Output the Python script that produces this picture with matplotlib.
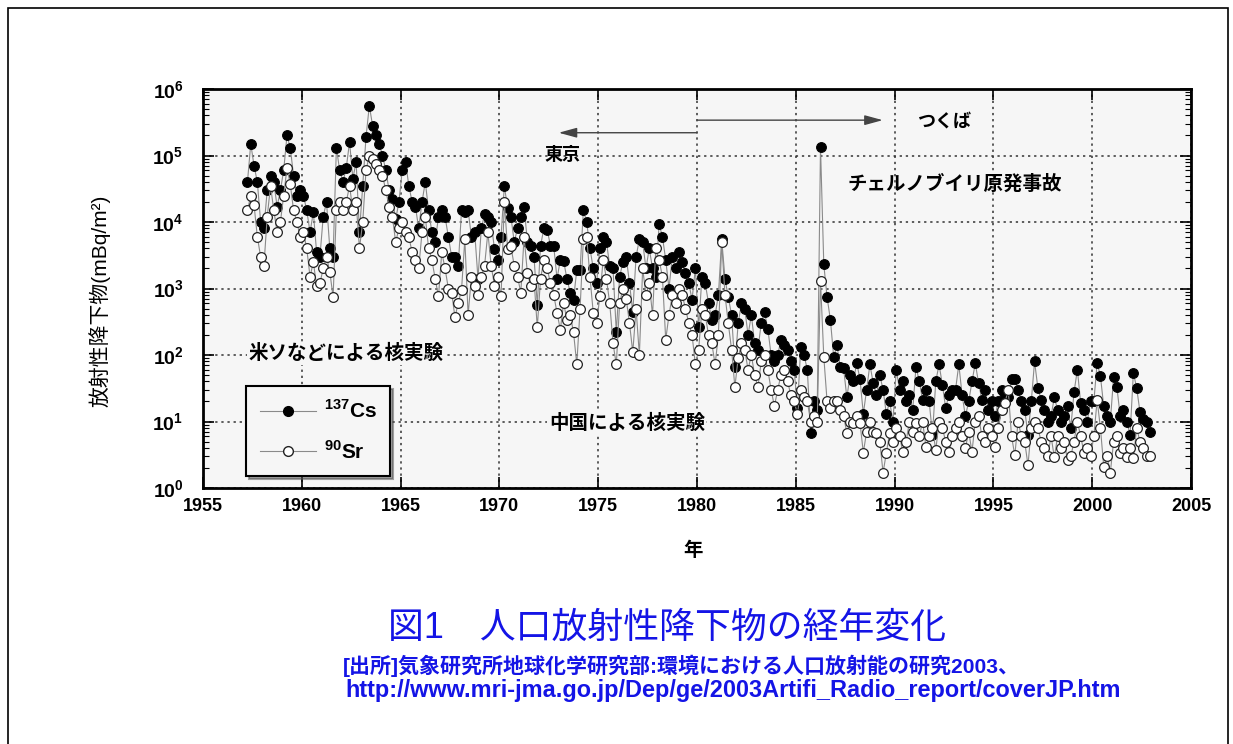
import numpy as np
import matplotlib
matplotlib.use("Agg")
import matplotlib.pyplot as plt
from matplotlib.patches import Rectangle
from matplotlib.lines import Line2D

# ---------------- data (mBq/m^2), bimonthly readings per year ----------------
years = list(range(1957, 2003))
bin_offsets = [1/12, 3/12, 5/12, 7/12, 9/12, 11/12]
nan = float('nan')

cs137 = [
    nan, 4e4, 1.5e5, 7e4, 4e4, 1e4,            # 1957
    8e3, 3e4, 5e4, 4e4, 1.7e4, 3e4,            # 1958
    6e4, 2e5, 1.3e5, 5e4, 2.5e4, 3e4,          # 1959
    2.5e4, 1.5e4, 7e3, 1.4e4, 3.5e3, 3e3,      # 1960
    1.2e4, 2e4, 4e3, 3e3, 1.3e5, 6e4,          # 1961
    4e4, 6.5e4, 1.6e5, 4.5e4, 8e4, 7e3,        # 1962
    3.5e4, 1.9e5, 5.6e5, 2.8e5, 2e5, 1.5e5,    # 1963
    1e5, 6e4, 3e4, 2.2e4, 1.1e4, 2e4,          # 1964
    6e4, 8e4, 3.5e4, 2e4, 1.7e4, 8e3,          # 1965
    2e4, 4e4, 1.5e4, 7e3, 5e3, 1.2e4,          # 1966
    1.5e4, 1.2e4, 6e3, 3e3, 3e3, 2.2e3,        # 1967
    1.5e4, 1.4e4, 1.5e4, 6e3, 7e3, 1.4e3,      # 1968
    8e3, 1.3e4, 1.2e4, 1e4, 3.9e3, 2.7e3,      # 1969
    6e3, 3.5e4, 1.6e4, 1.2e4, 5e3, 8e3,        # 1970
    1.2e4, 1.7e4, 5e3, 4.4e3, 3e3, 5.7e2,      # 1971
    4.4e3, 8e3, 7.7e3, 4.4e3, 4.3e3, 1.4e3,    # 1972
    2.7e3, 2.6e3, 1.4e3, 8.7e2, 6.8e2, 1.9e3,  # 1973
    1.9e3, 1.5e4, 1e4, 4e3, 2e3, 1.2e3,        # 1974
    4e3, 6e3, 5e3, 2.2e3, 2e3, 2.2e2,          # 1975
    1.5e3, 2.5e3, 3e3, 1.2e3, 4.4e2, 3e3,      # 1976
    5.5e3, 5e3, 2e3, 4e3, 2e3, 1.5e3,          # 1977
    9.3e3, 6e3, 2.7e3, 1e3, 3e3, 2e3,          # 1978
    3.5e3, 2.5e3, 1.7e3, 1.2e3, 6.8e2, 2e3,    # 1979
    2.6e2, 1.5e3, 1.2e3, 6e2, 3.4e2, 4e2,      # 1980
    8e2, 5.5e3, 1.4e3, 7.4e2, 4e2, 66,         # 1981
    3e2, 6e2, 5e2, 2e2, 4e2, 1.5e2,            # 1982
    1.2e2, 3e2, 4.4e2, 2.5e2, 1e2, 80,         # 1983
    1e2, 1.7e2, 1.4e2, 1.2e2, 80, 60,          # 1984
    16, 1.3e2, 1e2, 60, 6.8, 20,               # 1985
    15, 1.35e5, 2.3e3, 7.4e2, 3.4e2, 94,       # 1986
    1.4e2, 66, 64, 23, 50, 40,                 # 1987
    76, 43, 13, 30, 72, 38,                    # 1988
    25, 50, 30, 13, 20, 10,                    # 1989
    60, 30, 40, 20, 25, 15,                    # 1990
    67, 40, 21, 30, 20, 6.3,                   # 1991
    40, 72, 36, 16, 25, 30,                    # 1992
    30, 72, 25, 12, 20, 40,                    # 1993
    75, 38, 21, 30, 15, 20,                    # 1994
    12, 20, 30, 25, 23, 43,                    # 1995
    43, 30, 20, 15, 6.3, 20,                   # 1996
    80, 32, 21, 15, 10, 12,                    # 1997
    23, 15, 10, 12, 17, 8,                     # 1998
    28, 60, 19, 15, 10, 20,                    # 1999
    20, 76, 48, 17, 12, 10,                    # 2000
    46, 33, 12, 15, 10, 6.3,                   # 2001
    54, 32, 14, 11, 10, 7,                     # 2002
]

sr90 = [
    nan, 1.5e4, 2.5e4, 1.8e4, 6e3, 3e3,        # 1957
    2.2e3, 1.2e4, 3.5e4, 1.5e4, 7e3, 1e4,      # 1958
    2.5e4, 6.5e4, 3.7e4, 1.5e4, 1e4, 6e3,      # 1959
    7e3, 4e3, 1.5e3, 2.5e3, 1.1e3, 1.2e3,      # 1960
    2e3, 3e3, 1.8e3, 7.4e2, 1.5e4, 2e4,        # 1961
    1.5e4, 2e4, 3.5e4, 1.5e4, 2e4, 4e3,        # 1962
    1e4, 6e4, 1e5, 8.8e4, 7.4e4, 6e4,          # 1963
    5e4, 3e4, 1.7e4, 1.2e4, 5e3, 8e3,          # 1964
    1e4, 7e3, 6e3, 3.5e3, 2.7e3, 2e3,          # 1965
    7e3, 1.2e4, 4e3, 2.7e3, 1.4e3, 7.6e2,      # 1966
    3.5e3, 2e3, 1e3, 8.7e2, 3.7e2, 6e2,        # 1967
    9.5e2, 5.5e3, 4e2, 1.5e3, 1.1e3, 8e2,      # 1968
    1.5e3, 2.2e3, 7e3, 2.2e3, 1.1e3, 1.5e3,    # 1969
    7.6e2, 2e4, 3.9e3, 4.3e3, 2.2e3, 1.5e3,    # 1970
    8.7e2, 6e3, 1.7e3, 1.1e3, 1.4e3, 2.6e2,    # 1971
    1.4e3, 2.7e3, 2e3, 1.2e3, 8e2, 4.3e2,      # 1972
    2.4e2, 6e2, 3.4e2, 4e2, 2.2e2, 72,         # 1973
    5e2, 5.5e3, 6e3, 1.5e3, 4.3e2, 3e2,        # 1974
    7.6e2, 2.7e3, 1.4e3, 6e2, 1.5e2, 72,       # 1975
    6e2, 1e3, 7e2, 3e2, 1.1e2, 5e2,            # 1976
    1e2, 2e3, 8e2, 1.2e3, 4e2, 4e3,            # 1977
    2.7e3, 1.5e3, 1.7e2, 4e2, 8e2, 6e2,        # 1978
    1e3, 8e2, 5e2, 3e2, 2e2, 72,               # 1979
    1.2e2, 5e2, 4e2, 2e2, 1.5e2, 72,           # 1980
    2e2, 5e3, 8e2, 3e2, 1.2e2, 33,             # 1981
    90, 1.5e2, 1.2e2, 60, 1e2, 50,             # 1982
    33, 80, 1e2, 60, 30, 17,                   # 1983
    30, 50, 60, 40, 25, 20,                    # 1984
    13, 30, 23, 20, 10, 12,                    # 1985
    10, 1.3e3, 94, 20, 16, 20,                 # 1986
    20, 15, 12, 6.8, 10, 9.5,                  # 1987
    12, 9.5, 3.4, 7, 10, 7,                    # 1988
    6.8, 5, 1.7, 3.4, 6.8, 5,                  # 1989
    8, 6, 3.5, 5, 10, 7,                       # 1990
    9.5, 6, 10, 4.2, 6, 8,                     # 1991
    3.7, 10, 8, 5, 3.5, 6,                     # 1992
    8, 10, 6, 4, 7, 3.5,                       # 1993
    10, 12, 6, 5, 8, 6,                        # 1994
    4.1, 8, 15, 19, 30, 6,                     # 1995
    3.1, 10, 6, 5, 2.2, 8,                     # 1996
    10, 8, 5, 4, 3, 6,                         # 1997
    2.9, 6, 4, 5, 2.6, 3,                      # 1998
    5, 10, 6, 3.4, 4, 3,                       # 1999
    6, 21, 8, 2.1, 3, 1.7,                     # 2000
    5, 6, 3.4, 4, 2.9, 4,                      # 2001
    2.8, 8, 5, 4, 3, 3,                        # 2002
]

x_ticks = [1955, 1960, 1965, 1970, 1975, 1980, 1985, 1990, 1995, 2000, 2005]
y_ticks = [1, 10, 100, 1e3, 1e4, 1e5, 1e6]
y_tick_labels = [r'$\mathbf{10^{%d}}$' % i for i in range(7)]

# ---------------- style ----------------
plt.rcParams['mathtext.fontset'] = 'custom'
plt.rcParams['mathtext.rm'] = 'Liberation Sans:bold'
plt.rcParams['mathtext.bf'] = 'Liberation Sans:bold'
plt.rcParams['font.family'] = ['Liberation Sans', 'Noto Sans CJK JP']

t = (np.repeat(years, 6) + np.tile(bin_offsets, len(years)))
cs = np.array(cs137, dtype=float)
sr = np.array(sr90, dtype=float)

fig = plt.figure(figsize=(12.33, 7.44), dpi=100)
ax = fig.add_axes([203/1233, 1-488/744, (1191-203)/1233, (488-89)/744])
ax.set_facecolor('#f6f6f6')

line_col = '#8a8a8a'
ax.plot(t, cs, '-', color=line_col, lw=0.8, marker='o', ms=7, mfc='black',
        mec='black', mew=0.8, zorder=3)
ax.plot(t, sr, '-', color=line_col, lw=0.8, marker='o', ms=7, mfc='white',
        mec='#222222', mew=0.9, zorder=4)

ax.set_yscale('log')
ax.set_xlim(1955, 2005)
ax.set_ylim(1, 1e6)
ax.set_xticks(x_ticks)
ax.set_xticklabels([str(v) for v in x_ticks], fontsize=13, fontweight='bold')
ax.set_yticks(y_ticks)
ax.set_yticklabels(y_tick_labels, fontsize=14)
ax.yaxis.set_minor_locator(matplotlib.ticker.LogLocator(base=10, subs=np.arange(2, 10)))
ax.yaxis.set_minor_formatter(matplotlib.ticker.NullFormatter())
ax.tick_params(axis='both', which='both', direction='in', top=True, right=True)
ax.tick_params(axis='both', which='major', length=8, width=1.2)
ax.tick_params(axis='y', which='minor', length=4, width=0.8)
ax.tick_params(axis='x', which='major', pad=7)
ax.tick_params(axis='y', which='major', pad=14)
for sp in ax.spines.values():
    sp.set_linewidth(2)

ax.grid(True, which='major', linestyle=(0, (1.5, 2.5)), color='#333333', lw=1.1, zorder=1)

# arrows and annotations
arrow_col = '#444444'
ax.annotate('', xy=(1973.0, 2.2e5), xytext=(1980.0, 2.2e5),
            arrowprops=dict(arrowstyle='-|>,head_length=1.1,head_width=0.3',
                            color=arrow_col, lw=1.0, shrinkA=0, shrinkB=0), zorder=5)
ax.annotate('', xy=(1989.4, 3.4e5), xytext=(1980.0, 3.4e5),
            arrowprops=dict(arrowstyle='-|>,head_length=1.1,head_width=0.3',
                            color=arrow_col, lw=1.0, shrinkA=0, shrinkB=0), zorder=5)
ax.text(1973.2, 1.0e5, '東京', fontsize=13, ha='center', va='center', fontweight='bold')
ax.text(1992.5, 3.2e5, 'つくば', fontsize=13, ha='center', va='center', fontweight='bold')
ax.text(1987.6, 3.7e4, 'チェルノブイリ原発事故', fontsize=14, ha='left', va='center', fontweight='bold')
ax.text(1957.3, 1.05e2, '米ソなどによる核実験', fontsize=14, ha='left', va='center', fontweight='bold',
        bbox=dict(facecolor='#f6f6f6', edgecolor='none', pad=1), zorder=6)
ax.text(1972.5, 9.5, '中国による核実験', fontsize=14, ha='left', va='center', fontweight='bold',
        bbox=dict(facecolor='#f6f6f6', edgecolor='none', pad=1), zorder=6)

# legend
handles = [
    Line2D([], [], color=line_col, lw=0.8, marker='o', ms=7, mfc='black', mec='black'),
    Line2D([], [], color=line_col, lw=0.8, marker='o', ms=7, mfc='white', mec='#222222'),
]
leg = ax.legend(handles, [r'$^{137}$Cs', r'$^{90}$Sr'], loc='lower left',
                bbox_to_anchor=(0.044, 0.03), frameon=True, fancybox=False, shadow=True,
                edgecolor='black', facecolor='#f6f6f6', framealpha=1,
                prop=dict(size=15, weight='bold'), handlelength=2.7,
                borderpad=0.65, labelspacing=0.85, handletextpad=0.35, borderaxespad=0)
leg.get_frame().set_linewidth(1.5)
leg.set_zorder(7)

# axis labels
fig.text(100/1233, 1-301/744, '放射性降下物(mBq/m²)', rotation=90, ha='center', va='center',
         fontsize=15)
fig.text(693/1233, 1-551/744, '年', ha='center', va='center', fontsize=14, fontweight='bold')

# caption
blue = '#1414e6'
fig.text(667/1233, 1-628/744, '図1　人口放射性降下物の経年変化', ha='center', va='center',
         fontsize=25.8, color=blue)
fig.text(343/1233, 1-666/744, '[出所]気象研究所地球化学研究部:環境における人口放射能の研究2003、',
         ha='left', va='center', fontsize=15.1, color=blue, fontweight='bold')
fig.text(345/1233, 1-691/744, 'http://www.mri-jma.go.jp/Dep/ge/2003Artifi_Radio_report/coverJP.htm',
         ha='left', va='center', fontsize=16.9, color=blue, fontweight='bold')

# outer border
fig.patches.append(Rectangle((8/1233, -0.02), (1228-8)/1233, 1-8/744+0.02,
                             transform=fig.transFigure, fill=False, edgecolor='black', lw=1.2))

fig.savefig('out.png', dpi=100)
